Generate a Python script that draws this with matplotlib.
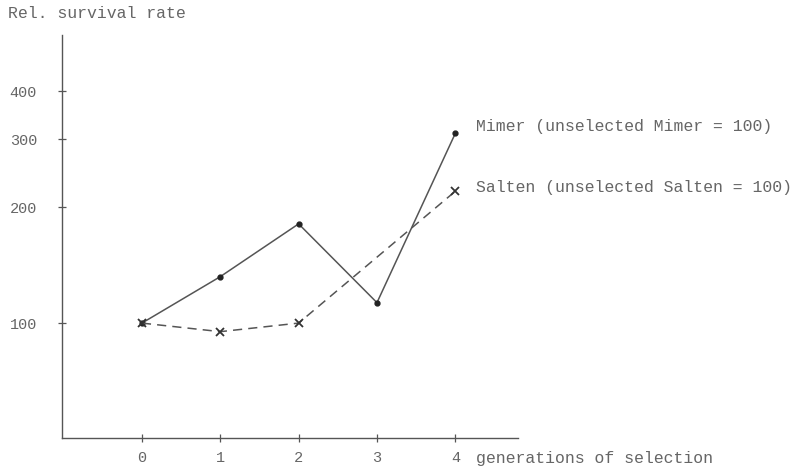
import numpy as np
import matplotlib.pyplot as plt

# relative survival rate per generation of selection (unselected = 100)
mimer_gen = [0, 1, 2, 3, 4]
mimer_rate = [100, 132, 181, 113, 311]
salten_gen = [0, 1, 2, 4]  # no point drawn at generation 3
salten_rate = [100, 95, 100, 220]

y_ticks = [100, 200, 300, 400]
x_ticks = [0, 1, 2, 3, 4]

ink = '#555555'
txt = '#666666'
mono = 'Liberation Mono'
fs = 11.9

fig = plt.figure(figsize=(7.92, 4.66), dpi=100)
ax = fig.add_axes([62 / 792, 1 - 438 / 466, (518 - 62) / 792, (438 - 35) / 466])

ax.plot(mimer_gen, mimer_rate, color=ink, lw=1.1, marker='o', ms=3.5,
        mfc='#222222', mec='#222222')
ax.plot(salten_gen, salten_rate, color=ink, lw=1.1, ls=(0, (6, 4)), marker='x',
        ms=6, mew=1.3, mec='#333333')

ax.set_yscale('log')
ax.set_ylim(50.3, 560)
ax.set_xlim(-1.02, 4.8)
ax.minorticks_off()
ax.set_yticks(y_ticks)
ax.set_yticklabels([str(v) for v in y_ticks])
ax.set_xticks(x_ticks)
ax.set_xticklabels([str(v) for v in x_ticks])

for side in ['top', 'right']:
    ax.spines[side].set_visible(False)
for side in ['left', 'bottom']:
    ax.spines[side].set_color(ink)
    ax.spines[side].set_linewidth(1.0)

ax.tick_params(axis='both', direction='inout', length=6, width=0.9, color=ink,
               labelcolor=txt, labelsize=11)
ax.tick_params(axis='y', pad=15)
ax.tick_params(axis='x', pad=6)
for lab in ax.get_xticklabels() + ax.get_yticklabels():
    lab.set_family(mono)

fig.text(8 / 792, 1 - 13 / 466, 'Rel. survival rate', family=mono, fontsize=fs,
         color=txt, va='center', ha='left')
fig.text(476 / 792, 1 - 458 / 466, 'generations of selection', family=mono,
         fontsize=fs, color=txt, va='center', ha='left')
ax.annotate('Mimer (unselected Mimer = 100)', xy=(4, 311), xytext=(15, 5),
            textcoords='offset points', family=mono, fontsize=fs, color=txt,
            va='center', ha='left')
ax.annotate('Salten (unselected Salten = 100)', xy=(4, 220), xytext=(15, 3),
            textcoords='offset points', family=mono, fontsize=fs, color=txt,
            va='center', ha='left')

fig.savefig('out.png', dpi=100)
